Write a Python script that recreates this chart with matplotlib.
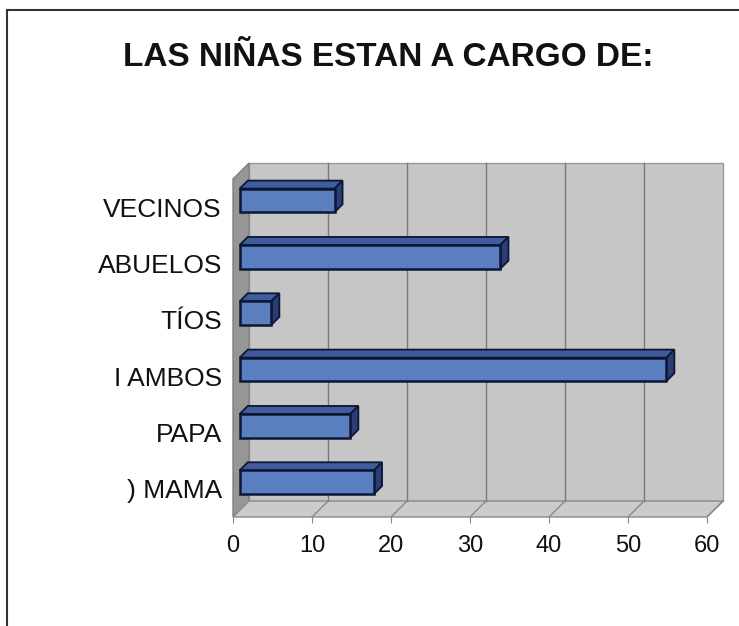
import matplotlib
matplotlib.use("Agg")
import matplotlib.pyplot as plt
from matplotlib.patches import Polygon, Rectangle
from matplotlib.lines import Line2D

plt.rcParams['font.family'] = ['Liberation Sans', 'DejaVu Sans']

# datos
categorias = [") MAMA", "PAPA", "I AMBOS", "TÍOS", "ABUELOS", "VECINOS"]
valores = [17, 14, 54, 4, 33, 12]
ticks_x = [0, 10, 20, 30, 40, 50, 60]
titulo = "LAS NIÑAS ESTAN A CARGO DE:"

# profundidad del efecto 3D (en unidades de datos)
dx = 2.03
dy = 0.284
f0, f1 = 0.42, 0.92   # cara frontal / trasera de las barras
h = 0.42              # alto de barra

fig = plt.figure(figsize=(7.39, 6.26), dpi=100)
ax = fig.add_axes([233 / 739, 1 - 517 / 626, 474 / 739, 338 / 626])
ax.set_xlim(0, 60)
ax.set_ylim(-0.5, 5.5)
for s in ax.spines.values():
    s.set_visible(False)
ax.patch.set_visible(False)

ymin, ymax = -0.5, 5.5
xmax = ticks_x[-1]

# paredes
pared_fondo = Polygon([(dx, ymin + dy), (xmax + dx, ymin + dy), (xmax + dx, ymax + dy), (dx, ymax + dy)],
                      closed=True, facecolor="#c6c6c6", edgecolor="#9a9a9a", lw=1, clip_on=False, zorder=1)
pared_izq = Polygon([(0, ymin), (0, ymax), (dx, ymax + dy), (dx, ymin + dy)],
                    closed=True, facecolor="#969696", edgecolor="#808080", lw=1, clip_on=False, zorder=1)
piso = Polygon([(0, ymin), (xmax, ymin), (xmax + dx, ymin + dy), (dx, ymin + dy)],
               closed=True, facecolor="#cbcbcb", edgecolor="#8a8a8a", lw=1, clip_on=False, zorder=1)
for p in [pared_fondo, pared_izq, piso]:
    ax.add_patch(p)

# lineas de division
for t in ticks_x[1:-1]:
    ax.add_line(Line2D([t + dx, t + dx], [ymin + dy, ymax + dy], color="#7a7a7a", lw=1, zorder=2, clip_on=False))
for t in ticks_x[1:]:
    ax.add_line(Line2D([t, t + dx], [ymin, ymin + dy], color="#8a8a8a", lw=1, zorder=2, clip_on=False))

# barras
for i, v in enumerate(valores):
    x0 = f0 * dx
    y0 = i - h / 2 + f0 * dy
    x1 = f1 * dx
    y1 = i - h / 2 + f1 * dy
    arriba = Polygon([(x0, y0 + h), (x0 + v, y0 + h), (x1 + v, y1 + h), (x1, y1 + h)], closed=True,
                     facecolor="#3f5c9c", edgecolor="#0d1633", lw=1.3, clip_on=False, zorder=3)
    lado = Polygon([(x0 + v, y0), (x0 + v, y0 + h), (x1 + v, y1 + h), (x1 + v, y1)], closed=True,
                   facecolor="#2c3d75", edgecolor="#0d1633", lw=1.3, clip_on=False, zorder=3)
    frente = Rectangle((x0, y0), v, h, facecolor="#5a7fc0", edgecolor="#0d1633", lw=1.8,
                       clip_on=False, zorder=4)
    ax.add_patch(arriba)
    ax.add_patch(lado)
    ax.add_patch(frente)

ax.set_xticks(ticks_x)
ax.set_xticklabels([str(t) for t in ticks_x], fontsize=17, color="#111111")
ax.tick_params(axis="x", length=4, color="#888888", pad=9)
ax.set_yticks(range(len(categorias)))
ax.set_yticklabels(categorias, fontsize=19, color="#111111")
ax.tick_params(axis="y", length=0, pad=8)

fig.text(388 / 739, 1 - 58 / 626, titulo, ha="center", va="center", fontsize=24, fontweight="bold", color="#111111")

# marco
fig.add_artist(Line2D([7 / 739, 7 / 739], [0, 1 - 10 / 626], transform=fig.transFigure, color="#333333", lw=1.5))
fig.add_artist(Line2D([7 / 739, 1], [1 - 10 / 626, 1 - 10 / 626], transform=fig.transFigure, color="#333333", lw=1.5))

fig.savefig("out.png", dpi=100)
